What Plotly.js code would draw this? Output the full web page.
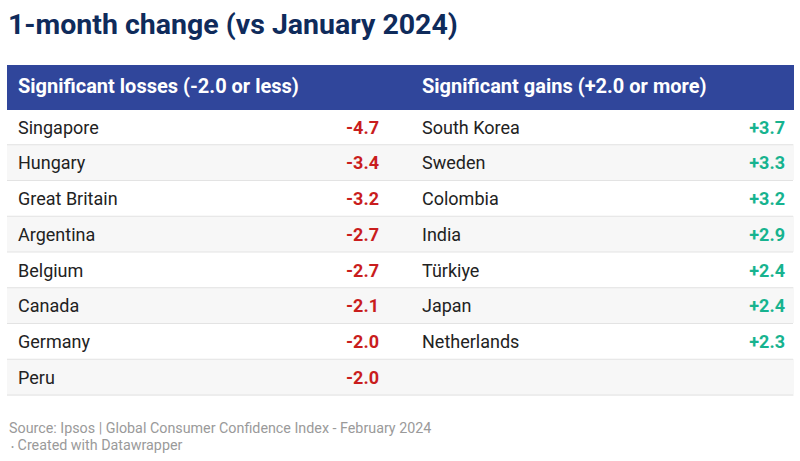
<!DOCTYPE html>
<html>
<head>
<meta charset="utf-8">
<script src="https://cdn.plot.ly/plotly-3.0.1.min.js"></script>
<style>html,body{margin:0;padding:0;background:#fff;}#chart{width:800px;height:461px;}</style>
</head>
<body>
<div id="chart"></div>
<script>
const lossCountries = ["Singapore", "Hungary", "Great Britain", "Argentina", "Belgium", "Canada", "Germany", "Peru"];
const lossValues = [-4.7, -3.4, -3.2, -2.7, -2.7, -2.1, -2.0, -2.0];
const gainCountries = ["South Korea", "Sweden", "Colombia", "India", "Türkiye", "Japan", "Netherlands"];
const gainValues = [3.7, 3.3, 3.2, 2.9, 2.4, 2.4, 2.3];
const headerLabels = ["Significant losses (-2.0 or less)", "Significant gains (+2.0 or more)"];
const titleText = "1-month change (vs January 2024)";
const sourceText = "Source: Ipsos | Global Consumer Confidence Index - February 2024";
const creditText = "Created with Datawrapper";

const nRows = Math.max(lossCountries.length, gainCountries.length);
const pad = (arr) => arr.concat(Array(nRows - arr.length).fill(""));
const blank = Array(nRows).fill("");

const lossVals = lossValues.map(v => v.toFixed(1));
const gainVals = gainValues.map(v => "+" + v.toFixed(1));

const rowFill = Array.from({length: nRows}, (_, i) => i % 2 === 0 ? "#ffffff" : "#f7f7f7");

const HEADER_H = 44, ROW_H = 35.75, TOP = 65, W = 800, H = 461;
const HEADER_SHIFT = 5, ROW_SHIFT = 3;
const colW = [3, 310, 67, 27, 324, 55]; // sums to 786 px (domain width)
const aligns = ["left", "left", "right", "left", "left", "right"];
const noLine = {width: 0, color: "rgba(0,0,0,0)"};
const HEADER_COLOR = "#30469b";

// background table: fills only
const bgTable = {
  type: "table",
  domain: {x: [7 / W, 793 / W], y: [0.05, 1 - TOP / H]},
  columnwidth: colW,
  header: {values: ["", "", "", "", "", ""], height: HEADER_H, fill: {color: HEADER_COLOR},
           line: {width: 1, color: HEADER_COLOR},
           font: {family: "Roboto", size: 20, color: "#ffffff"}},
  cells: {values: [blank, blank, blank, blank, blank, blank], height: ROW_H,
          fill: {color: colW.map(() => rowFill)},
          line: {width: 1, color: colW.map(() => rowFill)},
          font: {family: "Roboto", size: 18, color: "#222"}}
};

// text table: transparent, slightly lower so text sits centred in the rows
const textTable = {
  type: "table",
  domain: {x: [7 / W, 793 / W], y: [0.04, 1 - (TOP + HEADER_SHIFT) / H]},
  columnwidth: colW,
  header: {
    values: ["", headerLabels[0], "", "", headerLabels[1], ""],
    align: aligns, height: HEADER_H - (HEADER_SHIFT - ROW_SHIFT),
    fill: {color: "rgba(0,0,0,0)"}, line: noLine,
    font: {family: "Roboto", size: 20, color: "#ffffff", weight: 700}
  },
  cells: {
    values: [blank, pad(lossCountries), pad(lossVals), blank, pad(gainCountries), pad(gainVals)],
    align: aligns, height: ROW_H,
    fill: {color: "rgba(0,0,0,0)"}, line: noLine,
    font: {family: "Roboto", size: 18,
           color: ["#222222", "#222222", "#c91d1d", "#222222", "#222222", "#17b38f"],
           weight: [400, 400, 700, 400, 400, 700]}
  }
};

const shapes = [];
for (let k = 1; k <= nRows; k++) {
  const y = 1 - (TOP + HEADER_H + k * ROW_H) / H;
  shapes.push({type: "line", xref: "paper", yref: "paper", x0: 7 / W, x1: 793 / W, y0: y, y1: y,
    line: {color: "#e3e3e3", width: 1}, layer: "above"});
}

const layout = {
  width: W, height: H,
  margin: {l: 0, r: 0, t: 0, b: 0},
  paper_bgcolor: "#ffffff",
  title: {
    text: "<b>" + titleText + "</b>",
    x: 8 / W, xanchor: "left", xref: "container",
    y: 1 - 24 / H, yanchor: "middle", yref: "container",
    font: {family: "Roboto", size: 28.5, color: "#0f2b5b"}
  },
  shapes: shapes,
  annotations: [
    {text: sourceText, xref: "paper", yref: "paper", x: 7 / W, y: 1 - 428 / H, xanchor: "left", yanchor: "middle",
     showarrow: false, font: {family: "Roboto", size: 14.3, color: "#9a9a9a"}},
    {text: "<span style='font-size:9px'>•</span> " + creditText, xref: "paper", yref: "paper", x: 9 / W, y: 1 - 445 / H,
     xanchor: "left", yanchor: "middle", showarrow: false, font: {family: "Roboto", size: 14.3, color: "#9a9a9a"}}
  ]
};

Plotly.newPlot("chart", [bgTable, textTable], layout, {displayModeBar: false, staticPlot: true});
</script>
</body>
</html>
